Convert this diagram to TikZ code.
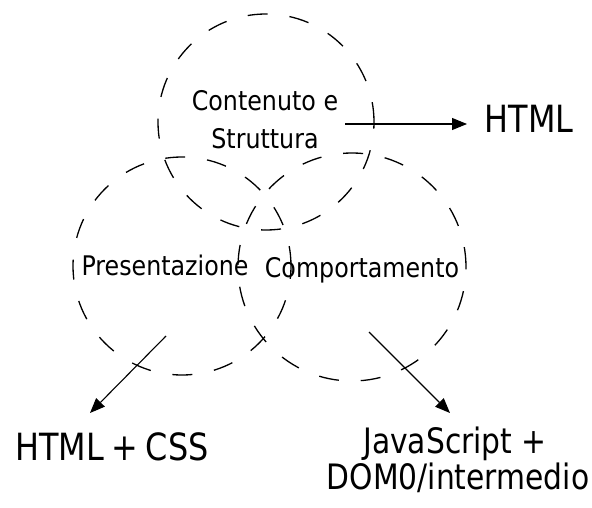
\documentclass[tikz,border=0pt]{standalone}
\usepackage{fontspec}
\setmainfont{DejaVu Sans}[FakeStretch=0.88]
\newfontfamily\bigf{DejaVu Sans}[FakeStretch=0.85]
\usetikzlibrary{arrows.meta}
\begin{document}
\begin{tikzpicture}[x=1pt,y=-1pt,
  ring/.style={draw, circle, inner sep=0pt, dash pattern=on 20pt off 22pt, line width=1.3pt},
  small/.style={font=\fontsize{27}{38}\selectfont, inner sep=0pt, anchor=base},
  big/.style={font=\bigf\fontsize{35}{40}\selectfont, inner sep=0pt, anchor=base},
  bigger/.style={font=\bigf\fontsize{37.5}{40}\selectfont, inner sep=0pt, anchor=base},
  arr/.style={-{Triangle[length=15pt,width=12pt]}, line width=1.1pt}]
\useasboundingbox (0,0) rectangle (592,508);
% labels
\node[small] (cont1) at (265,111) {Contenuto e};
\node[small] (cont2) at (265,149) {Struttura};
\node[small] (pres) at (165,275) {Presentazione};
\node[small] (comp) at (362,277) {Comportamento};
\node[bigger] (html) at (529,133) {HTML};
\node[bigger] (htmlcss) at (112,460) {HTML\hspace{0.2em}+\hspace{0.2em}CSS};
\node[big] (js1) at (455,453) {JavaScript +};
\node[big] (js2) at (458,489) {DOM0/intermedio};
% circles
\node[ring, minimum size=216pt] (ctop) at (266,122) {};
\node[ring, minimum size=218pt] (cleft) at (182,266) {};
\node[ring, minimum size=228pt] (cright) at (352,267) {};
% arrows
\coordinate (t0) at (345,124);
\coordinate (t1) at (467,124);
\coordinate (l0) at (166,336);
\coordinate (l1) at (90,413);
\coordinate (r0) at (369,332);
\coordinate (r1) at (450,413);
\draw[arr] (t0) -- (t1);
\draw[arr] (l0) -- (l1);
\draw[arr] (r0) -- (r1);
\end{tikzpicture}
\end{document}
